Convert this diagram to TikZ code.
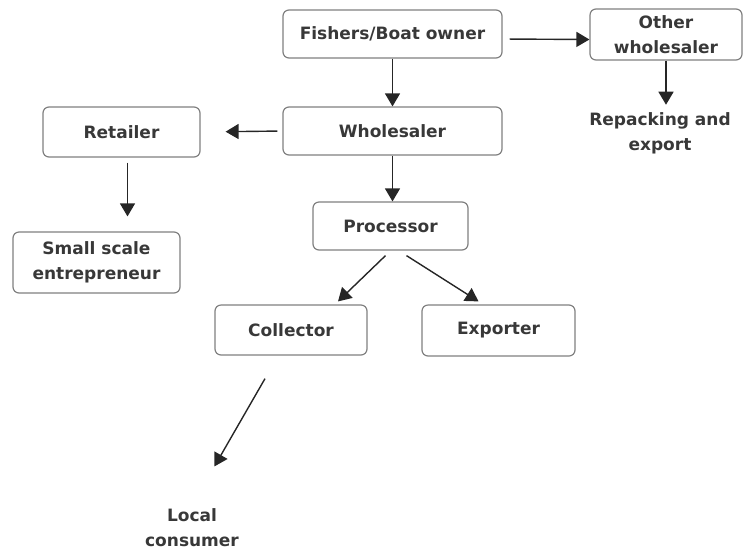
\documentclass[tikz,border=0pt]{standalone}
\usepackage{fontspec}
\setmainfont{DejaVu Sans}
\usetikzlibrary{arrows.meta}

\begin{document}
\begin{tikzpicture}[x=1pt, y=-1pt, font=\bfseries\fontsize{17}{25}\selectfont,
  b/.style={draw=black!50, line width=1.2pt, rounded corners=6pt, align=center, text=black!78},
  t/.style={align=center, text=black!78},
  a/.style={-{Triangle[length=13pt, width=15pt]}, line width=1.4pt, color=black!85}]
\useasboundingbox (0,0) rectangle (743,550);

% ---------------- main chain
\node[b, minimum width=219pt, minimum height=48pt] (fish) at (392.5,34) {Fishers/Boat owner};
\node[b, minimum width=219pt, minimum height=48pt] (whole) at (392.5,131) {Wholesaler};
\node[b, minimum width=155pt, minimum height=48pt] (proc) at (390.5,226) {Processor};
\node[b, minimum width=152pt, minimum height=50pt] (coll) at (291,330) {Collector};
\node[b, minimum width=153pt, minimum height=51pt] (exp) at (498.5,330.5) {Exporter};
\node[t] (local) at (192,528) {Local\\consumer};

% ---------------- side branches
\node[b, minimum width=152pt, minimum height=51pt] (other) at (666,34.5) {Other\\wholesaler};
\node[t] (repack) at (660,133) {Repacking and\\export};
\node[b, minimum width=157pt, minimum height=50pt] (ret) at (121.5,132) {Retailer};
\node[b, minimum width=167pt, minimum height=61pt] (small) at (96.5,262.5) {Small scale\\entrepreneur};

\draw[a] (fish) -- (whole);
\draw[a, shorten <=7pt] ([yshift=-5pt]fish.east) -- ([yshift=-5pt]other.west);
\draw[a, shorten >=4pt] (other.south) -- (other.south |- repack.north);
\draw[a, shorten <=5pt, shorten >=25pt] (whole.west) -- (ret.east);
\draw[a, shorten <=5pt, shorten >=15pt] ([xshift=6pt]ret.south) -- ([xshift=6pt]ret.south |- small.north);
\draw[a] (whole.south) -- (whole.south |- proc.north);
\draw[a] ([xshift=-5pt, yshift=-5pt]proc.south) -- ([xshift=47pt, yshift=3pt]coll.north);
\draw[a] ([xshift=16pt, yshift=-5pt]proc.south) -- ([xshift=-20pt, yshift=3pt]exp.north);
\draw[a, shorten >=45pt] ([xshift=-26pt, yshift=-23pt]coll.south) -- (local.north);
\end{tikzpicture}
\end{document}
